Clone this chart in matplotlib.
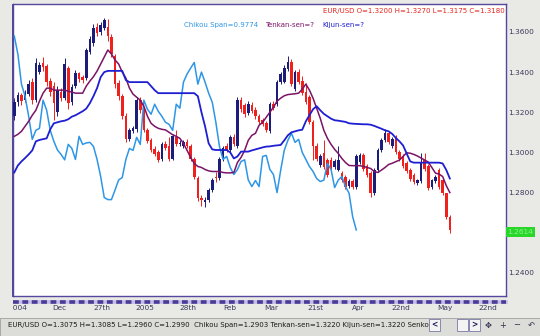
import matplotlib
matplotlib.use("Agg")
import matplotlib.pyplot as plt
from matplotlib.patches import Rectangle
from matplotlib.lines import Line2D
import numpy as np

# daily EUR/USD candles, late Nov 2004 .. mid May 2005
opens = [1.3180, 1.3250, 1.3285, 1.3260, 1.3290, 1.3350, 1.3260, 1.3400, 1.3445, 1.3430,
         1.3355, 1.3330, 1.3200, 1.3300, 1.3270, 1.3420, 1.3250, 1.3330, 1.3395, 1.3375,
         1.3370, 1.3500, 1.3545, 1.3625, 1.3600, 1.3620, 1.3625, 1.3575, 1.3480, 1.3345,
         1.3280, 1.3180, 1.3065, 1.3105, 1.3115, 1.3260, 1.3215, 1.3110, 1.3060, 1.3015,
         1.3000, 1.2965, 1.3040, 1.3030, 1.2965, 1.3075, 1.3040, 1.3030, 1.3050, 1.3030,
         1.2965, 1.2875, 1.2775, 1.2755, 1.2765, 1.2813, 1.2880, 1.2875, 1.2965, 1.3030,
         1.3010, 1.3075, 1.3030, 1.3260, 1.3235, 1.3195, 1.3235, 1.3210, 1.3180, 1.3160,
         1.3145, 1.3105, 1.3240, 1.3240, 1.3350, 1.3350, 1.3415, 1.3450, 1.3315, 1.3400,
         1.3355, 1.3300, 1.3275, 1.3150, 1.3030, 1.2935, 1.2995, 1.2960, 1.2960, 1.2925,
         1.2913, 1.2896, 1.2880, 1.2835, 1.2860, 1.2830, 1.2950, 1.2985, 1.2930, 1.2896,
         1.2800, 1.2910, 1.3010, 1.3060, 1.3095, 1.3030, 1.3075, 1.3000, 1.2980, 1.2947,
         1.2913, 1.2890, 1.2850, 1.2860, 1.2960, 1.2930, 1.2830, 1.2860, 1.2913, 1.2863,
         1.2797, 1.2680]
highs = [1.3270, 1.3300, 1.3295, 1.3310, 1.3360, 1.3370, 1.3470, 1.3450, 1.3475, 1.3440,
         1.3370, 1.3350, 1.3330, 1.3320, 1.3470, 1.3430, 1.3340, 1.3410, 1.3400, 1.3385,
         1.3520, 1.3580, 1.3640, 1.3645, 1.3650, 1.3670, 1.3665, 1.3590, 1.3490, 1.3360,
         1.3290, 1.3195, 1.3120, 1.3130, 1.3275, 1.3275, 1.3225, 1.3120, 1.3070, 1.3030,
         1.3010, 1.3050, 1.3055, 1.3075, 1.3090, 1.3110, 1.3060, 1.3060, 1.3065, 1.3040,
         1.2975, 1.2885, 1.2790, 1.2780, 1.2825, 1.2875, 1.2900, 1.2975, 1.3030, 1.3045,
         1.3085, 1.3090, 1.3275, 1.3275, 1.3245, 1.3255, 1.3250, 1.3225, 1.3190, 1.3170,
         1.3155, 1.3250, 1.3255, 1.3360, 1.3400, 1.3435, 1.3478, 1.3465, 1.3410, 1.3415,
         1.3380, 1.3345, 1.3285, 1.3160, 1.3045, 1.2990, 1.3060, 1.2970, 1.2975, 1.2965,
         1.3030, 1.2905, 1.2890, 1.2870, 1.2870, 1.2990, 1.2995, 1.2995, 1.2940, 1.2905,
         1.2920, 1.3020, 1.3070, 1.3115, 1.3105, 1.3075, 1.3085, 1.3010, 1.2990, 1.2955,
         1.2920, 1.2895, 1.2870, 1.2995, 1.2995, 1.2940, 1.2870, 1.2890, 1.2920, 1.2870,
         1.2800, 1.2690]
lows = [1.3160, 1.3230, 1.3235, 1.3250, 1.3280, 1.3240, 1.3250, 1.3390, 1.3405, 1.3330,
        1.3280, 1.3160, 1.3180, 1.3255, 1.3260, 1.3215, 1.3235, 1.3320, 1.3350, 1.3345,
        1.3360, 1.3490, 1.3530, 1.3580, 1.3585, 1.3610, 1.3555, 1.3475, 1.3320, 1.3260,
        1.3165, 1.3050, 1.3055, 1.3095, 1.3100, 1.3195, 1.3100, 1.3045, 1.3000, 1.2980,
        1.2950, 1.2955, 1.3010, 1.2955, 1.2960, 1.3030, 1.3030, 1.3020, 1.3020, 1.2955,
        1.2870, 1.2760, 1.2735, 1.2730, 1.2755, 1.2805, 1.2855, 1.2865, 1.2955, 1.3000,
        1.3000, 1.3030, 1.3020, 1.3200, 1.3175, 1.3185, 1.3195, 1.3165, 1.3140, 1.3130,
        1.3100, 1.3095, 1.3210, 1.3230, 1.3340, 1.3345, 1.3405, 1.3330, 1.3305, 1.3340,
        1.3285, 1.3240, 1.3140, 1.2960, 1.2955, 1.2925, 1.2915, 1.2880, 1.2905, 1.2915,
        1.2905, 1.2855, 1.2820, 1.2825, 1.2820, 1.2820, 1.2940, 1.2905, 1.2880, 1.2780,
        1.2790, 1.2900, 1.3000, 1.3050, 1.3040, 1.3020, 1.2990, 1.2955, 1.2920, 1.2895,
        1.2860, 1.2845, 1.2840, 1.2850, 1.2905, 1.2815, 1.2820, 1.2850, 1.2820, 1.2790,
        1.2670, 1.2600]
closes = [1.3250, 1.3285, 1.3255, 1.3290, 1.3340, 1.3260, 1.3445, 1.3435, 1.3425, 1.3350,
          1.3300, 1.3245, 1.3310, 1.3270, 1.3440, 1.3245, 1.3325, 1.3395, 1.3365, 1.3360,
          1.3510, 1.3565, 1.3620, 1.3595, 1.3635, 1.3660, 1.3580, 1.3490, 1.3340, 1.3280,
          1.3180, 1.3065, 1.3110, 1.3120, 1.3260, 1.3210, 1.3110, 1.3055, 1.3012, 1.2990,
          1.2963, 1.3040, 1.3020, 1.2965, 1.3080, 1.3040, 1.3047, 1.3050, 1.3030, 1.2965,
          1.2880, 1.2775, 1.2765, 1.2765, 1.2813, 1.2863, 1.2875, 1.2965, 1.3020, 1.3010,
          1.3075, 1.3040, 1.3260, 1.3215, 1.3190, 1.3240, 1.3205, 1.3180, 1.3150, 1.3140,
          1.3110, 1.3240, 1.3220, 1.3350, 1.3390, 1.3420, 1.3448, 1.3340, 1.3400, 1.3350,
          1.3295, 1.3250, 1.3150, 1.3030, 1.2965, 1.2980, 1.2925, 1.2890, 1.2915, 1.2955,
          1.2963, 1.2863, 1.2830, 1.2860, 1.2830, 1.2980, 1.2985, 1.2915, 1.2890, 1.2800,
          1.2910, 1.3010, 1.3060, 1.3095, 1.3050, 1.3065, 1.3000, 1.2965, 1.2930, 1.2905,
          1.2870, 1.2855, 1.2862, 1.2945, 1.2915, 1.2825, 1.2862, 1.2880, 1.2830, 1.2797,
          1.2680, 1.2614]

tenkan = [1.3080, 1.3090, 1.3105, 1.3130, 1.3155, 1.3185, 1.3210, 1.3255, 1.3295, 1.3320,
          1.3320, 1.3310, 1.3310, 1.3310, 1.3310, 1.3305, 1.3300, 1.3295, 1.3295, 1.3295,
          1.3330, 1.3355, 1.3377, 1.3405, 1.3440, 1.3475, 1.3510, 1.3490, 1.3460, 1.3440,
          1.3400, 1.3370, 1.3320, 1.3290, 1.3275, 1.3260, 1.3230, 1.3180, 1.3145, 1.3130,
          1.3120, 1.3115, 1.3112, 1.3100, 1.3088, 1.3080, 1.3070, 1.3045, 1.3010, 1.2975,
          1.2945, 1.2930, 1.2925, 1.2915, 1.2908, 1.2905, 1.2905, 1.2905, 1.2900, 1.2898,
          1.2898, 1.2900, 1.2950, 1.2975, 1.3010, 1.3060, 1.3085, 1.3095, 1.3135, 1.3150,
          1.3175, 1.3200, 1.3225, 1.3255, 1.3270, 1.3282, 1.3288, 1.3290, 1.3292, 1.3295,
          1.3315, 1.3340, 1.3310, 1.3270, 1.3220, 1.3170, 1.3110, 1.3070, 1.3040, 1.3015,
          1.2995, 1.2970, 1.2950, 1.2935, 1.2934, 1.2934, 1.2934, 1.2930, 1.2925, 1.2920,
          1.2905, 1.2900, 1.2912, 1.2925, 1.2940, 1.2946, 1.2954, 1.2962, 1.2980, 1.2998,
          1.2996, 1.2990, 1.2982, 1.2972, 1.2962, 1.2952, 1.2925, 1.2897, 1.2892, 1.2880,
          1.2835, 1.2800]

kijun = [1.2900, 1.2935, 1.2955, 1.2972, 1.2990, 1.3010, 1.3055, 1.3062, 1.3066, 1.3070,
         1.3115, 1.3145, 1.3150, 1.3155, 1.3158, 1.3165, 1.3178, 1.3185, 1.3195, 1.3205,
         1.3218, 1.3245, 1.3280, 1.3320, 1.3375, 1.3400, 1.3406, 1.3406, 1.3406, 1.3406,
         1.3406, 1.3360, 1.3350, 1.3350, 1.3350, 1.3350, 1.3350, 1.3350, 1.3330, 1.3310,
         1.3295, 1.3295, 1.3295, 1.3295, 1.3295, 1.3295, 1.3295, 1.3295, 1.3295, 1.3295,
         1.3295, 1.3280, 1.3200, 1.3130, 1.3045, 1.3015, 1.3012, 1.3012, 1.3012, 1.3012,
         1.3000, 1.2970, 1.2980, 1.3004, 1.3004, 1.3004, 1.3010, 1.3015, 1.3020, 1.3025,
         1.3029, 1.3030, 1.3033, 1.3035, 1.3037, 1.3060, 1.3085, 1.3100, 1.3105, 1.3110,
         1.3113, 1.3155, 1.3185, 1.3215, 1.3230, 1.3210, 1.3192, 1.3180, 1.3168, 1.3160,
         1.3158, 1.3155, 1.3152, 1.3145, 1.3143, 1.3142, 1.3141, 1.3140, 1.3140, 1.3138,
         1.3132, 1.3125, 1.3118, 1.3110, 1.3105, 1.3092, 1.3072, 1.3055, 1.3035, 1.2995,
         1.2955, 1.2949, 1.2949, 1.2949, 1.2949, 1.2949, 1.2949, 1.2949, 1.2949, 1.2945,
         1.2913, 1.2870]

chikou_shift = 26

date_labels = ["2004", "Dec", "27th", "2005", "28th", "Feb", "Mar", "21st", "Apr", "22nd", "May", "22nd"]
date_pos = [1.0, 12.6, 24.3, 36.2, 48.1, 59.8, 71.5, 83.7, 95.6, 107.3, 119.5, 131.5]
price_ticks = [1.24, 1.26, 1.28, 1.30, 1.32, 1.34, 1.36]

UP = "#1c1c7a"
DOWN = "#f0201c"
BG = "#e9e9e6"
FRAME = "#54489c"

fig = plt.figure(figsize=(5.4, 3.36), dpi=100, facecolor=BG)
W, H = 540.0, 336.0
ax = fig.add_axes([13 / W, 1 - 296 / H, (506 - 13) / W, (296 - 4) / H])
ax.set_facecolor("white")

o = np.array(opens)
h = np.array(highs)
l = np.array(lows)
c = np.array(closes)
x = np.arange(len(c))
up = c >= o
cols = np.where(up, UP, DOWN)

ax.vlines(x, l, h, colors=cols, linewidth=0.7, zorder=2)
body = np.maximum(np.abs(c - o), 0.0004)
ax.bar(x, body, bottom=np.minimum(o, c), width=0.72, color=cols, linewidth=0, zorder=3)

ax.plot(x[:-chikou_shift], c[chikou_shift:], color="#2e96e6", lw=1.1, zorder=4)
ax.plot(x, tenkan, color="#7a1466", lw=1.1, zorder=4)
ax.plot(x, kijun, color="#1e1ed2", lw=1.3, zorder=4)

ax.set_xlim(-0.35, 136.6)
ax.set_ylim(1.2285, 1.3739)

ax.yaxis.tick_right()
ax.set_yticks(price_ticks)
ax.set_yticklabels([f"{v:.4f}" for v in price_ticks])
ax.tick_params(axis="y", length=0, pad=1.5, labelsize=5.3, colors="#3a3a5a")
ax.set_xticks(date_pos)
ax.set_xticklabels(date_labels)
ax.tick_params(axis="x", length=0, pad=6.5, labelsize=5.3, colors="#3a3a5a")
for s in ax.spines.values():
    s.set_color(FRAME)
    s.set_linewidth(1.0)

# last price marker on the axis
ax.annotate(f"{c[-1]:.4f}", xy=(1, c[-1]), xycoords=("axes fraction", "data"),
            xytext=(1.2, -1.5), textcoords="offset points", va="center", ha="left",
            fontsize=5.3, color="#8af58a", zorder=6, annotation_clip=False,
            bbox=dict(boxstyle="square,pad=0.25", fc="#2bd62b", ec="none"))

# header texts
fig.text(505 / W, 1 - 11 / H, "EUR/USD O=1.3200 H=1.3270 L=1.3175 C=1.3180",
         color="#e8231c", fontsize=5.0, ha="right", va="center")
fig.text(184 / W, 1 - 25 / H, "Chikou Span=0.9774", color="#2e96e6", fontsize=5.0, va="center")
fig.text(265 / W, 1 - 25 / H, "Tenkan-sen=?", color="#7a1466", fontsize=5.0, va="center")
fig.text(322 / W, 1 - 25 / H, "Kijun-sen=?", color="#1e1ed2", fontsize=5.0, va="center")

# scroll strip under the plot
yb = 1 - 302 / H
fig.add_artist(Line2D([13 / W, 506 / W], [yb, yb], color="#c4bce8", lw=2.6))
fig.add_artist(Line2D([13 / W, 506 / W], [yb, yb], color="#4a3c96", lw=2.6, dashes=(1.6, 1.0)))

# left panel covering the clipped first label
fig.patches.append(Rectangle((0, 1 - 316 / H), 12.5 / W, 316 / H, transform=fig.transFigure,
                             fc=BG, ec="none", zorder=5))
fig.patches.append(Rectangle((12.2 / W, 1 - 297 / H), 1.2 / W, 293 / H, transform=fig.transFigure,
                             fc=FRAME, ec="none", zorder=6))

# status bar
fig.patches.append(Rectangle((0, 0), 1, 18 / H, transform=fig.transFigure,
                             fc="#dcdcd8", ec="none", zorder=5))
fig.patches.append(Rectangle((0, 0), 1, 18 / H, transform=fig.transFigure,
                             fc="none", ec="#a0a0a0", lw=0.6, zorder=5))
fig.text(8 / W, 1 - 325 / H,
         "EUR/USD O=1.3075 H=1.3085 L=1.2960 C=1.2990  Chikou Span=1.2903 Tenkan-sen=1.3220 "
         "Kijun-sen=1.3220 Senko",
         fontsize=5.0, color="#1a1a1a", va="center", zorder=7)
for bx, label in [(429, "<"), (457, ""), (469, ">")]:
    fig.patches.append(Rectangle((bx / W, 1 - 331 / H), 11 / W, 12 / H, transform=fig.transFigure,
                                 fc="#f4f4f4", ec="#7a7aa8", lw=0.6, zorder=6))
    fig.text((bx + 5.5) / W, 1 - 325 / H, label, fontsize=5.5, ha="center", va="center",
             color="#1a1a5a", zorder=7, fontweight="bold")
for bx, label in [(488, "\u2725"), (503, "+"), (517, "\u2212"), (531, "\u21b6")]:
    fig.text(bx / W, 1 - 325 / H, label, fontsize=6, ha="center", va="center",
             color="#303050", zorder=7)

fig.savefig("out.png", dpi=100, facecolor=BG)
